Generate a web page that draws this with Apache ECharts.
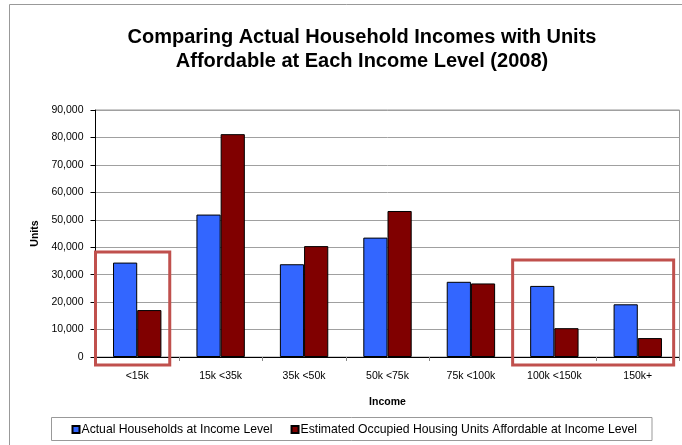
<!DOCTYPE html>
<html>
<head>
<meta charset="utf-8">
<script src="https://cdn.jsdelivr.net/npm/echarts@6/dist/echarts.min.js"></script>
<style>
html,body{margin:0;padding:0;background:#fff;}
#c{width:682px;height:445px;}
</style>
</head>
<body>
<div id="c"></div>
<script>
const categories = ['<15k', '15k <35k', '35k <50k', '50k <75k', '75k <100k', '100k <150k', '150k+'];
const actualHouseholds = [34400, 51900, 33800, 43500, 27400, 25900, 19200];
const affordableUnits = [17100, 81200, 40400, 53200, 26800, 10500, 6900];
const seriesNames = ['Actual Households at Income Level', 'Estimated Occupied Housing Units Affordable at Income Level'];
const yTicks = [0, 10000, 20000, 30000, 40000, 50000, 60000, 70000, 80000, 90000];
// highlighted category groups: [first category index, last category index, top value]
const highlightFirst = [0, 5];
const highlightLast = [0, 6];
const highlightTop = [38300, 35300];

const FONT = '"Liberation Sans", Arial, sans-serif';
const chart = echarts.init(document.getElementById('c'), null, {renderer: 'canvas'});
chart.setOption({
  animation: false,
  backgroundColor: '#fff',
  title: {
    text: 'Comparing Actual Household Incomes with Units\nAffordable at Each Income Level (2008)',
    left: 357, top: 20, textAlign: 'center',
    textStyle: {fontFamily: FONT, fontSize: 20, fontWeight: 'bold', color: '#000', lineHeight: 24}
  },
  grid: {left: 95.5, right: 2.5, top: 110, bottom: 88, show: true, borderColor: '#999', borderWidth: 1},
  legend: {
    left: 51.5, top: 417.5,
    padding: [6, 15, 5, 20],
    borderColor: '#999', borderWidth: 1,
    itemWidth: 7, itemHeight: 7, itemGap: 18,
    icon: 'rect',
    textStyle: {fontFamily: FONT, fontSize: 12.2, color: '#000', padding: [0, 0, 0, -3]},
    data: seriesNames
  },
  xAxis: {
    type: 'category', data: categories,
    name: 'Income', nameLocation: 'middle', nameGap: 40,
    nameTextStyle: {fontFamily: FONT, fontSize: 10.5, fontWeight: 'bold', color: '#000'},
    axisLine: {lineStyle: {color: '#000', width: 1}},
    axisTick: {show: true, length: 4, lineStyle: {color: '#888'}},
    axisLabel: {fontFamily: FONT, fontSize: 10.5, color: '#000', margin: 14},
    splitLine: {show: false}
  },
  yAxis: {
    type: 'value', min: 0, max: 90000, interval: 10000,
    name: 'Units', nameLocation: 'middle', nameGap: 55, nameRotate: 90,
    nameTextStyle: {fontFamily: FONT, fontSize: 10.5, fontWeight: 'bold', color: '#000'},
    axisLine: {show: true, lineStyle: {color: '#000', width: 1}},
    axisTick: {show: true, length: 5, lineStyle: {color: '#000'}},
    axisLabel: {fontFamily: FONT, fontSize: 10.5, color: '#000', margin: 12,
      formatter: v => yTicks.includes(v) ? v.toLocaleString('en-US') : ''},
    splitLine: {show: true, lineStyle: {color: '#a0a0a0', width: 1}}
  },
  series: [
    {name: seriesNames[0], type: 'bar', data: actualHouseholds, barGap: '0%', barCategoryGap: '42%',
     itemStyle: {color: '#3366FF', borderColor: '#000', borderWidth: 1}},
    {name: seriesNames[1], type: 'bar', data: affordableUnits,
     itemStyle: {color: '#800000', borderColor: '#000', borderWidth: 1}}
  ]
});

function drawAnnotations() {
  const c0 = chart.convertToPixel({xAxisIndex: 0}, 0);
  const c1 = chart.convertToPixel({xAxisIndex: 0}, 1);
  const bw = c1 - c0;
  const yBottom = chart.convertToPixel({yAxisIndex: 0}, 0) + 8;
  const rightFrac = [0.39, 0.43];
  const els = [{
    type: 'rect', shape: {x: 9.5, y: 4.5, width: 700, height: 500},
    style: {fill: 'none', stroke: '#999', lineWidth: 1}, silent: true, z: 0
  }];
  for (let i = 0; i < highlightFirst.length; i++) {
    const xl = chart.convertToPixel({xAxisIndex: 0}, highlightFirst[i]) - bw / 2;
    const xr = chart.convertToPixel({xAxisIndex: 0}, highlightLast[i]) + bw * rightFrac[i];
    const yt = chart.convertToPixel({yAxisIndex: 0}, highlightTop[i]);
    els.push({
      type: 'rect', shape: {x: xl, y: yt, width: xr - xl, height: yBottom - yt},
      style: {fill: 'none', stroke: '#C0504D', lineWidth: 3}, silent: true, z: 100
    });
  }
  chart.setOption({graphic: els});
}
drawAnnotations();
</script>
</body>
</html>
